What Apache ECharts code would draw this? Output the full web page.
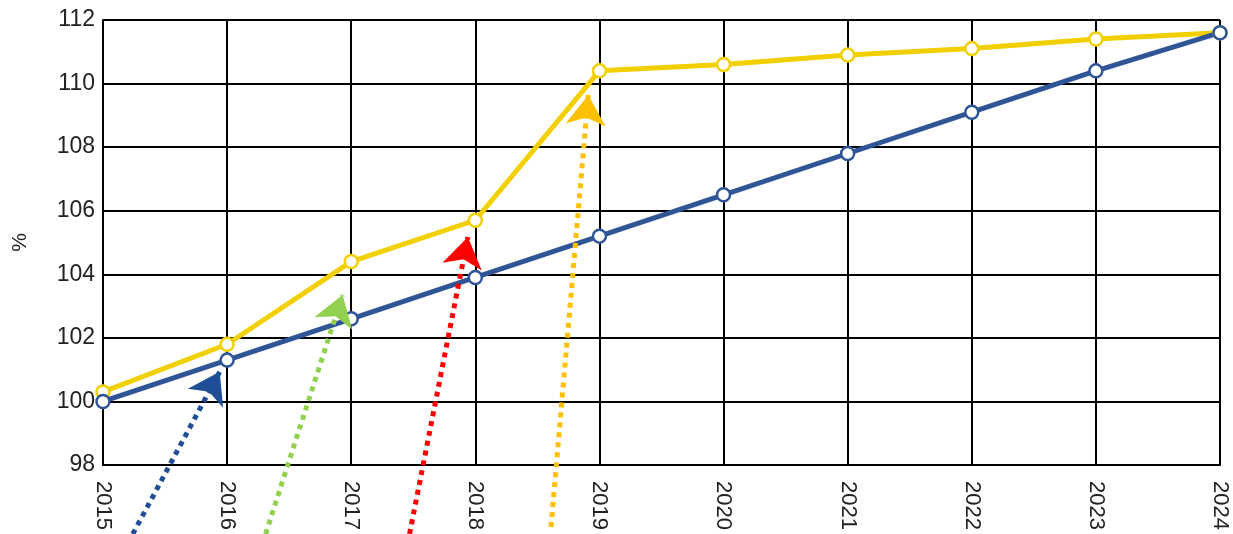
<!DOCTYPE html>
<html>
<head>
<meta charset="utf-8">
<script src="https://cdn.jsdelivr.net/npm/echarts@6/dist/echarts.min.js"></script>
<style>
  html, body { margin: 0; padding: 0; background: #fff; }
  #chart { width: 1233px; height: 534px; }
</style>
</head>
<body>
<div id="chart"></div>
<script>
// years on the x axis
const years = [2015, 2016, 2017, 2018, 2019, 2020, 2021, 2022, 2023, 2024];
// blue series (%)
const blueValues = [100, 101.3, 102.6, 103.9, 105.2, 106.5, 107.8, 109.1, 110.4, 111.6];
// yellow series (%)
const yellowValues = [100.3, 101.8, 104.4, 105.7, 110.4, 110.6, 110.9, 111.1, 111.4, 111.6];
// y ticks
const yTicks = [98, 100, 102, 104, 106, 108, 110, 112];

// dotted arrows: [from, to] in data coordinates, with colour
const arrowFrom = [[2015.24, 95.83], [2016.31, 95.83], [2017.47, 95.83], [2018.61, 96.05]];
const arrowTo = [[2015.94, 100.93], [2016.93, 103.35], [2017.94, 105.17], [2018.91, 109.64]];
const arrowColors = ["#1F4E96", "#92D050", "#FF0000", "#FFC000"];

const font = "'Liberation Sans', Arial, sans-serif";

const chart = echarts.init(document.getElementById("chart"));

function lineSeries(values, color) {
  return {
    type: "line",
    data: years.map((y, i) => [y, values[i]]),
    symbol: "circle",
    symbolSize: 13,
    showAllSymbol: true,
    lineStyle: { color: color, width: 5 },
    itemStyle: { color: "#fff", borderColor: color, borderWidth: 2.5 },
    z: 5,
    animation: false
  };
}

const arrowSeries = {
  type: "lines",
  coordinateSystem: "cartesian2d",
  clip: false,
  symbol: ["none", "arrow"],
  symbolSize: [24, 30],
  data: arrowFrom.map((f, i) => ({
    coords: [f, arrowTo[i]],
    lineStyle: { color: arrowColors[i] }
  })),
  lineStyle: { width: 5, type: [5, 5], cap: "butt", opacity: 1 },
  z: 10,
  animation: false
};

chart.setOption({
  backgroundColor: "#fff",
  animation: false,
  grid: { left: 103, right: 13, top: 20, bottom: 69, outerBoundsMode: "none", containLabel: false },
  xAxis: {
    type: "value",
    min: years[0],
    max: years[years.length - 1],
    interval: 1,
    axisLine: { show: true, lineStyle: { color: "#000", width: 2 } },
    axisTick: { show: false },
    splitLine: { show: true, lineStyle: { color: "#000", width: 2 } },
    axisLabel: {
      rotate: -90,
      margin: 16,
      color: "#222",
      fontSize: 22,
      fontFamily: font,
      formatter: v => String(v)
    }
  },
  yAxis: {
    type: "value",
    name: "%",
    nameLocation: "middle",
    nameRotate: 90,
    nameGap: 72,
    nameTextStyle: { color: "#222", fontSize: 21, fontFamily: font },
    min: yTicks[0],
    max: yTicks[yTicks.length - 1],
    interval: 2,
    axisLine: { show: true, lineStyle: { color: "#000", width: 2 } },
    axisTick: { show: false },
    splitLine: { show: true, lineStyle: { color: "#000", width: 2 } },
    axisLabel: { color: "#222", fontSize: 23, fontFamily: font, margin: 8 }
  },
  series: [
    lineSeries(yellowValues, "#F2D000"),
    lineSeries(blueValues, "#2F5597"),
    arrowSeries
  ]
});
</script>
</body>
</html>
